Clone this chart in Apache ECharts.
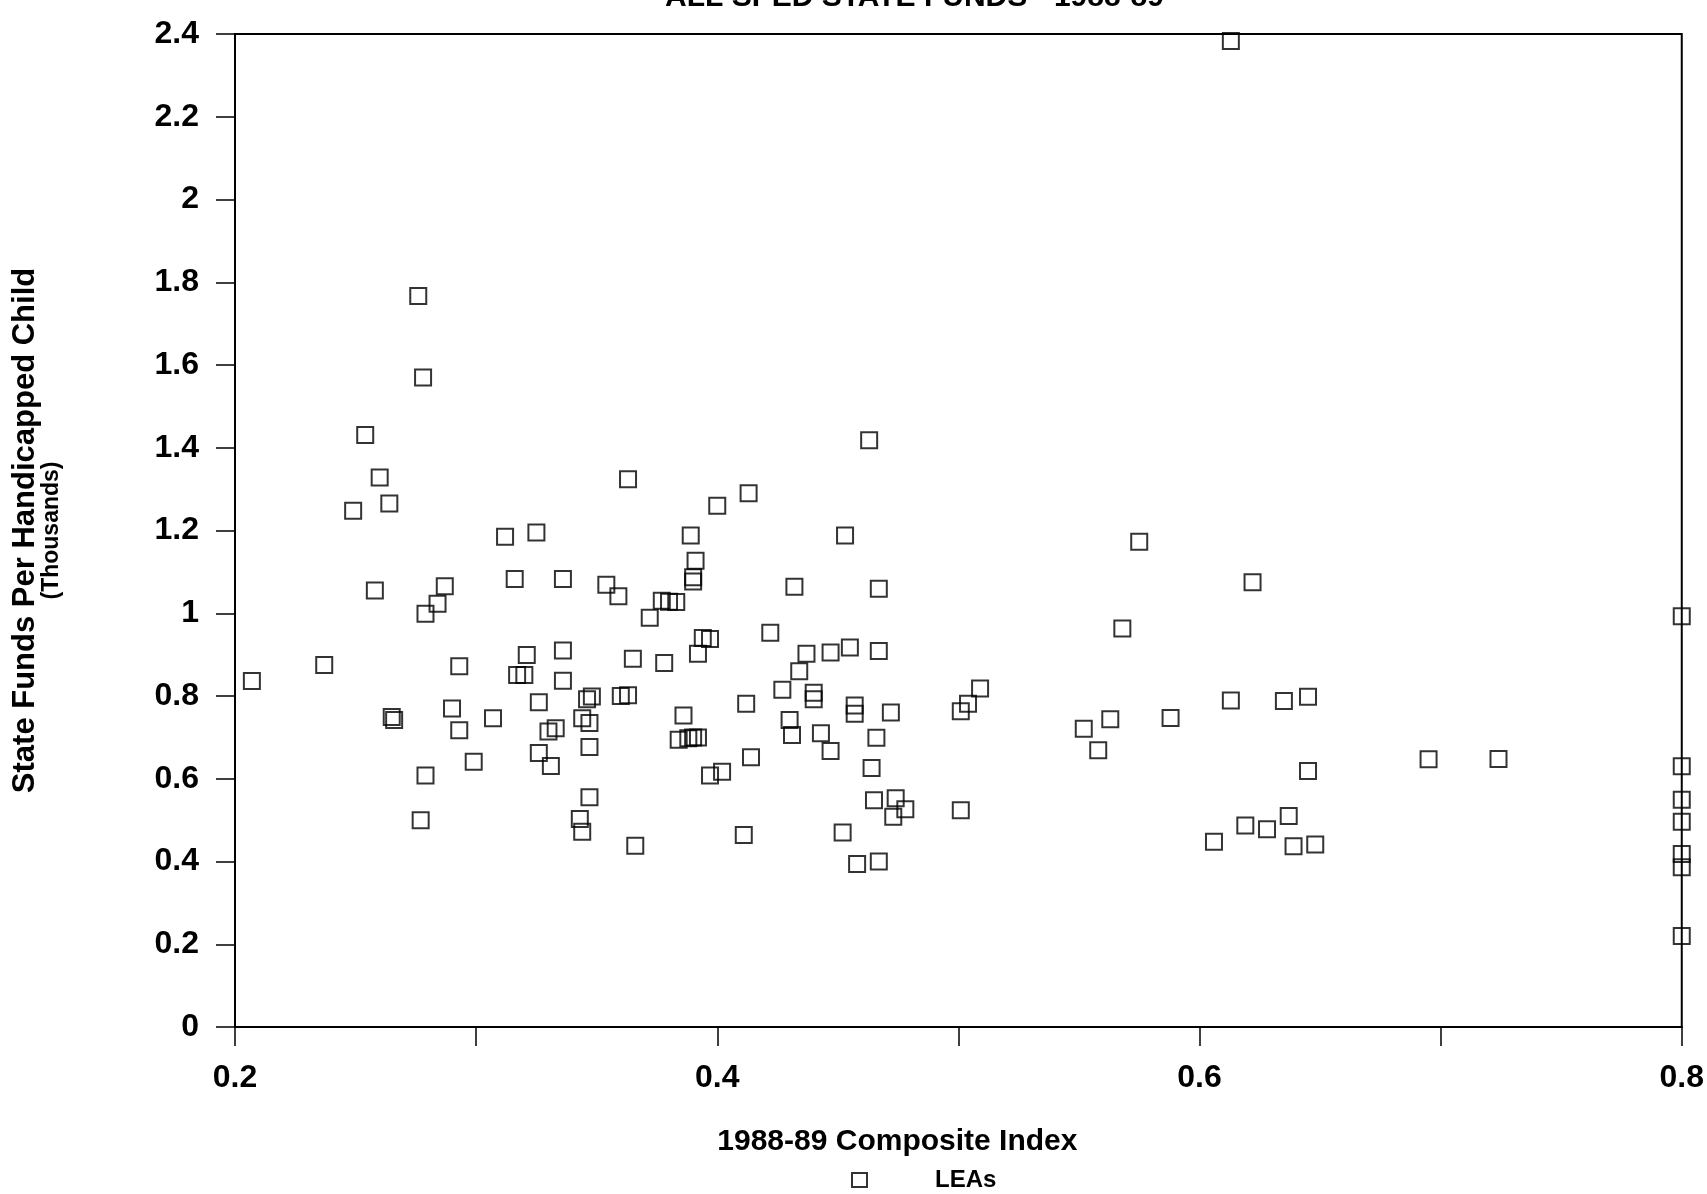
<!DOCTYPE html>
<html>
<head>
<meta charset="utf-8">
<script src="https://cdn.jsdelivr.net/npm/echarts@6/dist/echarts.min.js"></script>
<style>
  html, body { margin: 0; padding: 0; background: #ffffff; }
  #chart { width: 1707px; height: 1194px; }
</style>
</head>
<body>
<div id="chart"></div>
<script>
// ---- Data ----
const chartTitle = 'ALL SPED STATE FUNDS - 1988-89';
const xAxisTitle = '1988-89 Composite Index';
const yAxisTitleLine1 = 'State Funds Per Handicapped Child';
const yAxisTitleLine2 = '(Thousands)';
const seriesName = 'LEAs';

// Composite index of each LEA
const compositeIndex = [
  0.613, 0.276, 0.278, 0.254, 0.260, 0.249, 0.264, 0.258, 0.279, 0.284,
  0.287, 0.207, 0.237, 0.293, 0.265, 0.266, 0.290, 0.293, 0.279, 0.277,
  0.299, 0.307, 0.312, 0.325, 0.316, 0.336, 0.317, 0.320, 0.321, 0.336,
  0.336, 0.326, 0.326, 0.331, 0.333, 0.330, 0.344, 0.347, 0.348, 0.346,
  0.347, 0.347, 0.343, 0.344, 0.354, 0.359, 0.363, 0.360, 0.363, 0.365,
  0.366, 0.372, 0.377, 0.380, 0.383, 0.378, 0.384, 0.386, 0.388, 0.390,
  0.392, 0.389, 0.391, 0.390, 0.390, 0.392, 0.394, 0.397, 0.397, 0.402,
  0.400, 0.413, 0.412, 0.414, 0.411, 0.422, 0.427, 0.430, 0.431, 0.432,
  0.434, 0.437, 0.440, 0.440, 0.443, 0.447, 0.447, 0.452, 0.453, 0.455,
  0.457, 0.457, 0.458, 0.463, 0.467, 0.464, 0.466, 0.465, 0.467, 0.467,
  0.472, 0.473, 0.474, 0.478, 0.501, 0.501, 0.504, 0.509, 0.552, 0.558,
  0.563, 0.568, 0.575, 0.588, 0.606, 0.613, 0.619, 0.622, 0.628, 0.635,
  0.637, 0.639, 0.645, 0.645, 0.648, 0.695, 0.724, 0.800, 0.800, 0.800,
  0.800, 0.800, 0.800, 0.800
];

// State funds per handicapped child (thousands)
const fundsPerChild = [
  2.383, 1.767, 1.570, 1.431, 1.328, 1.248, 1.265, 1.055, 0.999, 1.023,
  1.065, 0.836, 0.875, 0.872, 0.749, 0.742, 0.770, 0.717, 0.608, 0.500,
  0.641, 0.746, 1.185, 1.195, 1.083, 1.083, 0.851, 0.851, 0.899, 0.910,
  0.837, 0.785, 0.662, 0.631, 0.722, 0.714, 0.746, 0.735, 0.799, 0.792,
  0.677, 0.555, 0.503, 0.472, 1.069, 1.041, 1.324, 0.800, 0.802, 0.890,
  0.438, 0.989, 1.030, 1.028, 1.027, 0.880, 0.694, 0.753, 0.698, 0.700,
  0.700, 1.188, 1.127, 1.087, 1.077, 0.902, 0.940, 0.938, 0.608, 0.617,
  1.260, 1.290, 0.781, 0.652, 0.464, 0.953, 0.815, 0.742, 0.706, 1.064,
  0.860, 0.902, 0.808, 0.792, 0.710, 0.667, 0.905, 0.470, 1.188, 0.917,
  0.777, 0.757, 0.394, 1.418, 0.400, 0.626, 0.699, 0.548, 1.059, 0.909,
  0.760, 0.508, 0.553, 0.526, 0.524, 0.763, 0.781, 0.818, 0.721, 0.669,
  0.744, 0.963, 1.173, 0.747, 0.448, 0.789, 0.487, 1.075, 0.478, 0.788,
  0.510, 0.437, 0.619, 0.798, 0.441, 0.647, 0.648, 0.993, 0.630, 0.549,
  0.496, 0.418, 0.386, 0.220
];

// Axis ranges / ticks
const xMin = 0.2, xMax = 0.8, xStep = 0.1;
const yMin = 0, yMax = 2.4, yStep = 0.2;

// ---- Build chart ----
const points = compositeIndex.map((x, i) => [x, fundsPerChild[i]]);
const FONT = "'Liberation Sans', Arial, sans-serif";

const chart = echarts.init(document.getElementById('chart'), null, { renderer: 'canvas' });
chart.setOption({
  backgroundColor: '#ffffff',
  animation: false,
  title: {
    text: chartTitle,
    left: 665,
    top: -17,
    padding: 0,
    textStyle: { fontFamily: FONT, fontWeight: 'bold', fontSize: 30, color: '#000' }
  },
  legend: {
    left: 851,
    top: 1168,
    padding: 0,
    itemWidth: 15,
    itemHeight: 14,
    icon: 'rect',
    data: [seriesName],
    textStyle: {
      fontFamily: FONT, fontWeight: 'bold', fontSize: 24, color: '#000',
      padding: [0, 0, 0, 63]
    }
  },
  grid: {
    left: 235, right: 25, top: 34, bottom: 167,
    show: true,
    borderColor: '#000',
    borderWidth: 2,
    backgroundColor: 'transparent'
  },
  xAxis: {
    type: 'value',
    min: xMin, max: xMax, interval: xStep,
    name: xAxisTitle,
    nameLocation: 'middle',
    nameGap: 100,
    nameTextStyle: {
      fontFamily: FONT, fontWeight: 'bold', fontSize: 30, color: '#000',
      padding: [0, 122, 0, 0]
    },
    axisLine: { show: true, onZero: false, lineStyle: { color: '#000', width: 2 } },
    axisTick: { show: true, inside: false, length: 19, lineStyle: { color: '#000', width: 1.5 } },
    axisLabel: {
      margin: 35,
      fontFamily: FONT, fontWeight: 'bold', fontSize: 32, color: '#000',
      formatter: function (v) {
        const r = Math.round(v * 10);
        return r % 2 === 0 ? (r / 10).toFixed(1) : '';
      }
    },
    splitLine: { show: false }
  },
  yAxis: {
    type: 'value',
    min: yMin, max: yMax, interval: yStep,
    name: '{a|' + yAxisTitleLine1 + '}\n{b|' + yAxisTitleLine2 + '}',
    nameLocation: 'middle',
    nameRotate: 90,
    nameGap: 172,
    nameTextStyle: {
      color: '#000',
      rich: {
        a: { fontFamily: FONT, fontWeight: 'bold', fontSize: 31, lineHeight: 32, color: '#000', align: 'center' },
        b: { fontFamily: FONT, fontWeight: 'bold', fontSize: 23, lineHeight: 22, color: '#000', align: 'center' }
      }
    },
    axisLine: { show: true, onZero: false, lineStyle: { color: '#000', width: 2 } },
    axisTick: { show: true, inside: false, length: 19, lineStyle: { color: '#000', width: 1.5 } },
    axisLabel: {
      margin: 36,
      fontFamily: FONT, fontWeight: 'bold', fontSize: 32, color: '#000',
      formatter: function (v) { return String(Math.round(v * 10) / 10); }
    },
    splitLine: { show: false }
  },
  series: [{
    name: seriesName,
    type: 'scatter',
    clip: false,
    symbol: 'rect',
    symbolSize: 16,
    itemStyle: { color: 'rgba(255,255,255,0)', borderColor: '#000', borderWidth: 2 },
    data: points
  }]
});
</script>
</body>
</html>
